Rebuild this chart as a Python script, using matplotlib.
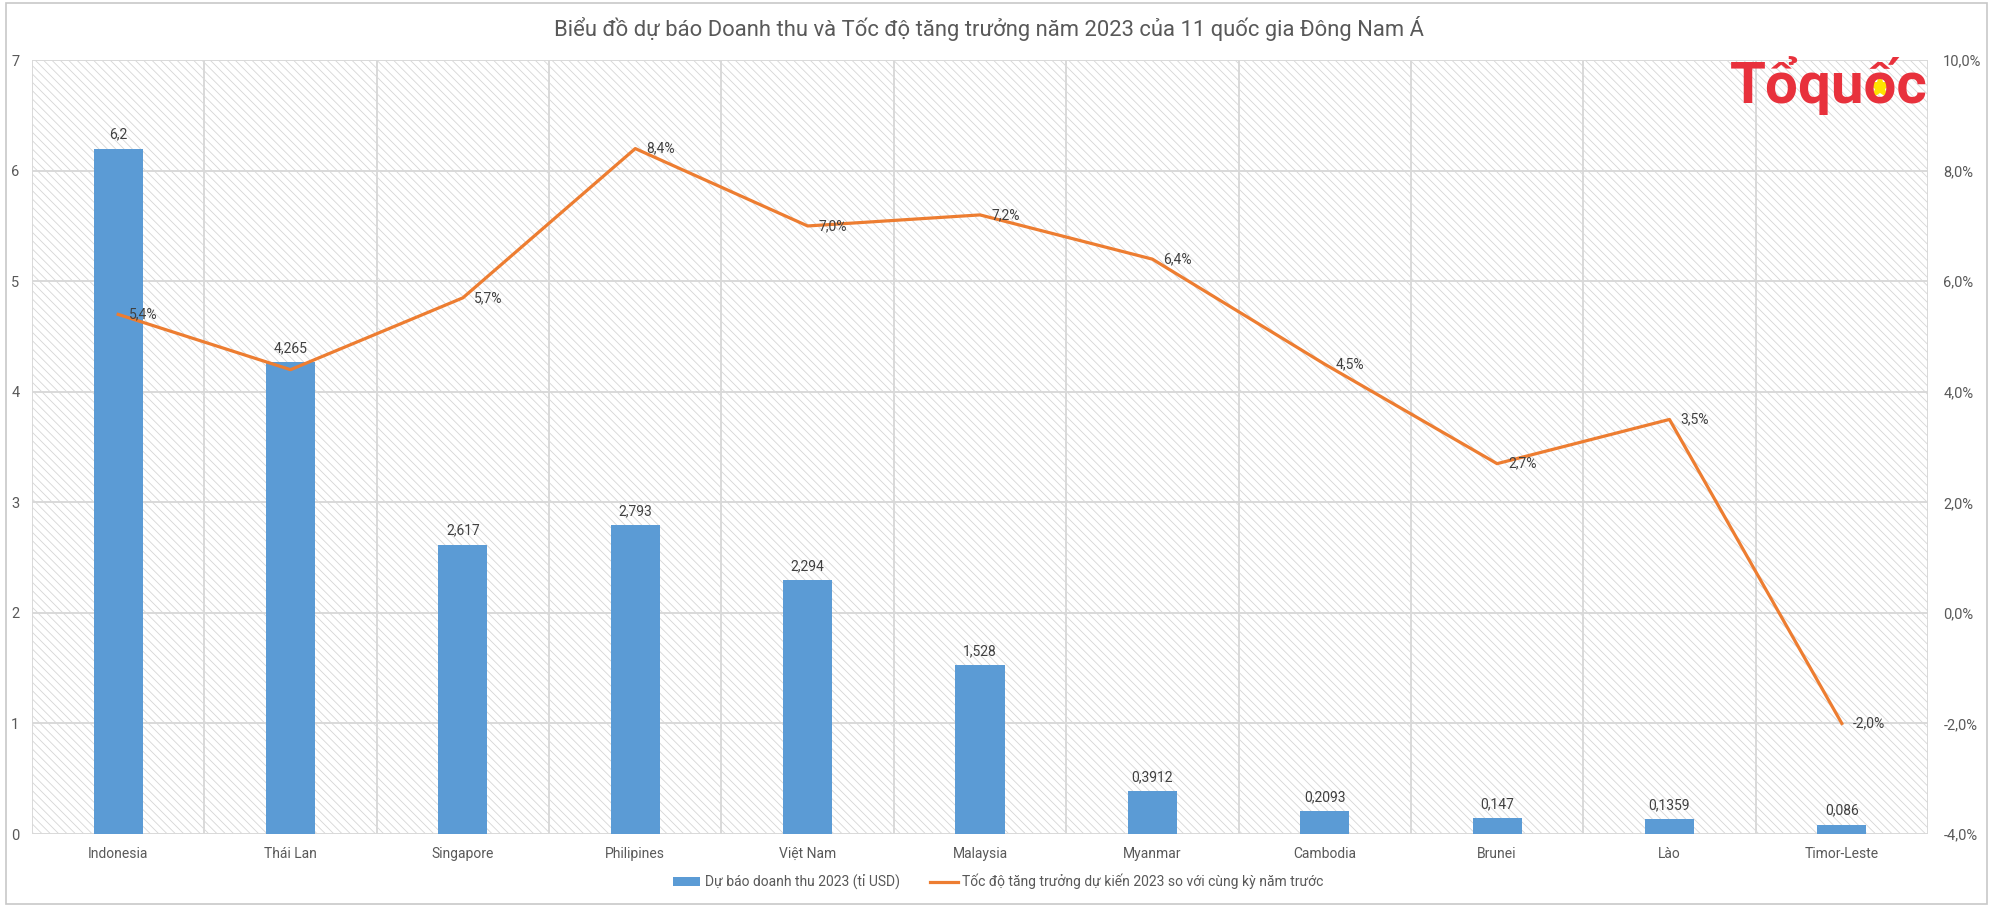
import numpy as np
import matplotlib.pyplot as plt
from matplotlib.patches import Rectangle
from matplotlib.lines import Line2D
from matplotlib.patches import Patch

plt.rcParams['font.family'] = ['Roboto', 'DejaVu Sans']
plt.rcParams['hatch.linewidth'] = 0.6

# du lieu
countries = ['Indonesia', 'Thái Lan', 'Singapore', 'Philipines', 'Việt Nam', 'Malaysia',
             'Myanmar', 'Cambodia', 'Brunei', 'Lào', 'Timor-Leste']
revenue = [6.2, 4.265, 2.617, 2.793, 2.294, 1.528, 0.3912, 0.2093, 0.147, 0.1359, 0.086]
growth = [5.4, 4.4, 5.7, 8.4, 7.0, 7.2, 6.4, 4.5, 2.7, 3.5, -2.0]
growth_label_shown = [True, False, True, True, True, True, True, True, True, True, True]

title = 'Biểu đồ dự báo Doanh thu và Tốc độ tăng trưởng năm 2023 của 11 quốc gia Đông Nam Á'
bar_name = 'Dự báo doanh thu 2023 (tỉ USD)'
line_name = 'Tốc độ tăng trưởng dự kiến 2023 so với cùng kỳ năm trước'

grey_text = '#595959'
grid_col = '#d9d9d9'
bar_col = '#5b9bd5'
line_col = '#ed7d31'

fig = plt.figure(figsize=(20, 9.11), dpi=100)
ax = fig.add_axes([0.016, 0.0845, 0.948, 0.8495])
x = np.arange(len(countries))

# nen gach cheo
bg = Rectangle((0, 0), 1, 1, transform=ax.transAxes, facecolor='white',
               edgecolor='#d6d6d6', hatch='\\\\\\\\', lw=0, zorder=0.1)
ax.add_patch(bg)

ax.bar(x, revenue, width=0.285, color=bar_col, zorder=2)
for xi, v in zip(x, revenue):
    ax.annotate(str(v).replace('.', ','), (xi, v), xytext=(0, 5), textcoords='offset points',
                ha='center', va='bottom', fontsize=10, color='#404040', zorder=5)

ax.set_xlim(-0.5, len(countries) - 0.5)
ax.set_ylim(0, 7)
ax.set_yticks(np.arange(0, 8, 1))
ax.set_xticks(x)
ax.set_xticklabels(countries)
ax.set_xticks(np.arange(-0.5, len(countries), 1), minor=True)
ax.tick_params(axis='x', which='both', length=0, pad=9, labelsize=10, labelcolor=grey_text)
ax.tick_params(axis='y', length=0, pad=9, labelsize=10.5, labelcolor=grey_text)
ax.grid(axis='y', color=grid_col, lw=1.4, zorder=0.5)
ax.grid(axis='x', which='minor', color=grid_col, lw=1.4, zorder=0.5)
ax.set_axisbelow(True)
for s in ax.spines.values():
    s.set_visible(False)

ax2 = ax.twinx()
ax2.plot(x, growth, color=line_col, lw=2.3, zorder=3)
for xi, v, show in zip(x, growth, growth_label_shown):
    if show:
        ax2.annotate(('%.1f%%' % v).replace('.', ','), (xi, v), xytext=(8, 0),
                     textcoords='offset points', ha='left', va='center',
                     fontsize=10, color='#404040')
ax2.set_ylim(-4, 10)
ax2.set_yticks(np.arange(-4, 11, 2))
ax2.set_yticklabels([('%.1f%%' % t).replace('.', ',') for t in np.arange(-4, 11, 2)])
ax2.tick_params(axis='y', length=0, pad=11, labelsize=10.5, labelcolor=grey_text)
for s in ax2.spines.values():
    s.set_visible(False)

fig.text(0.4945, 0.969, title, ha='center', va='center', fontsize=15.8, color=grey_text)

# logo
fig.text(0.964, 0.887, 'Tổquốc', ha='right', va='baseline', fontsize=42,
         fontweight='bold', color='#e8313c')
fig.add_artist(Line2D([0.9398], [0.904], transform=fig.transFigure, marker='*',
                      markersize=21, color='#ffe400', markeredgewidth=0, lw=0))

handles = [Patch(facecolor=bar_col), Line2D([0], [0], color=line_col, lw=2.3)]
fig.legend(handles, [bar_name, line_name], loc='center', bbox_to_anchor=(0.499, 0.032),
           ncol=2, frameon=False, fontsize=10, labelcolor=grey_text,
           handlelength=2.0, handleheight=0.6, handletextpad=0.3, columnspacing=2.2)

# khung ngoai
fig.patches.append(Rectangle((0.003, 0.008), 0.9905, 0.989, transform=fig.transFigure,
                             fill=False, edgecolor='#c8c8c8', lw=1.2))

fig.savefig('out.png', dpi=100)
